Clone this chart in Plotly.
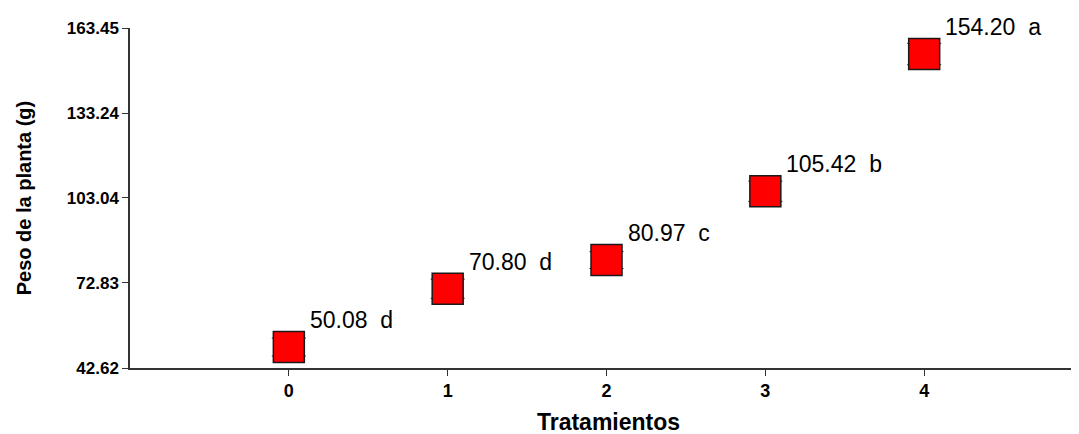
import plotly.graph_objects as go

tratamientos = [0, 1, 2, 3, 4]
peso_medio = [50.08, 70.80, 80.97, 105.42, 154.20]
error_est = [3.2, 3.4, 3.0, 3.6, 3.8]
letras = ["d", "d", "c", "b", "a"]
y_ticks = [42.62, 72.83, 103.04, 133.24, 163.45]

fig = go.Figure()
fig.add_trace(go.Scatter(
    x=tratamientos, y=peso_medio, mode="markers",
    marker=dict(symbol="square", size=31, color="#ff0000",
                line=dict(color="#1a1a1a", width=1.5)),
    error_y=dict(type="data", array=error_est, color="#222222",
                 thickness=1, width=17),
    showlegend=False,
))

for x, y, l in zip(tratamientos, peso_medio, letras):
    fig.add_annotation(x=x, y=y, text=f"{y:.2f}  {l}", showarrow=False,
                       xanchor="left", yanchor="middle", xshift=19, yshift=27,
                       font=dict(family="Liberation Sans, Arial", size=23, color="black"))

fig.update_layout(
    width=1079, height=434,
    margin=dict(l=122, r=0, t=20, b=74),
    plot_bgcolor="white", paper_bgcolor="white",
    font=dict(family="Liberation Sans, Arial", color="black"),
    xaxis=dict(range=[-1, 5.025], tickvals=tratamientos,
               ticktext=[str(t) for t in tratamientos],
               showline=True, linecolor="#333333", linewidth=1.5,
               ticks="outside", ticklen=6, tickcolor="#333333",
               showgrid=False, zeroline=False,
               tickfont=dict(size=18, weight="bold"),
               title=dict(text="Tratamientos", font=dict(size=23, weight="bold"), standoff=14)),
    yaxis=dict(range=[42.62, 163.45], tickvals=y_ticks,
               ticktext=[f"{v:.2f}" for v in y_ticks],
               showline=True, linecolor="#333333", linewidth=1.5,
               ticks="outside", ticklen=6, tickcolor="#333333",
               showgrid=False, zeroline=False,
               tickfont=dict(size=17, weight="bold"),
               title=dict(text="Peso de la planta (g)", font=dict(size=20, weight="bold"), standoff=30)),
)

fig.write_html("out.html")
